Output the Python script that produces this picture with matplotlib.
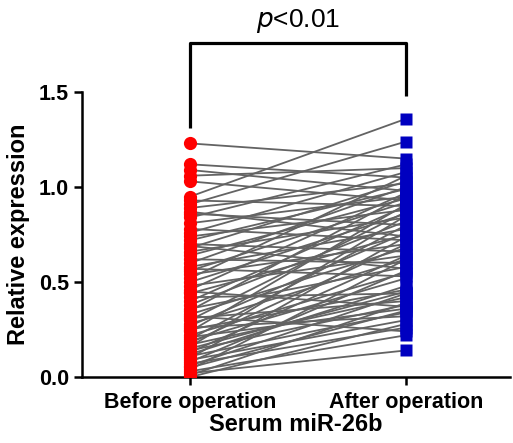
import numpy as np
import matplotlib.pyplot as plt

plt.rcParams['font.family'] = ['Liberation Sans', 'DejaVu Sans']

groups = ['Before operation', 'After operation']
before = [1.23, 1.12, 1.09, 1.06, 1.03, 0.95, 0.93, 0.91, 0.89, 0.87, 0.86, 0.84,
          0.81, 0.78, 0.76, 0.74, 0.72, 0.70, 0.69, 0.68, 0.66, 0.64, 0.62, 0.60,
          0.58, 0.57, 0.56, 0.54, 0.52, 0.50, 0.48, 0.46, 0.45, 0.44, 0.42, 0.40,
          0.38, 0.36, 0.35, 0.33, 0.32, 0.31, 0.30, 0.28, 0.27, 0.26, 0.25, 0.24,
          0.22, 0.21, 0.20, 0.19, 0.18, 0.17, 0.16, 0.15, 0.14, 0.13, 0.12, 0.11,
          0.10, 0.09, 0.08, 0.07, 0.06, 0.05, 0.04, 0.03, 0.02, 0.01, 0.00]
after = [1.15, 1.05, 0.98, 1.10, 0.93, 1.36, 0.90, 1.24, 1.02, 0.74, 0.80, 1.12,
         0.95, 0.72, 1.08, 0.88, 0.99, 0.66, 0.57, 1.03, 0.84, 0.94, 0.60, 1.00,
         0.78, 0.53, 0.92, 0.70, 1.06, 0.86, 0.64, 0.97, 0.37, 0.75, 0.44, 0.90,
         0.82, 0.58, 0.96, 0.68, 0.24, 0.40, 0.87, 0.62, 0.76, 0.32, 0.46, 0.91,
         0.55, 0.36, 0.80, 0.52, 0.70, 0.42, 0.85, 0.45, 0.38, 0.64, 0.48, 0.34,
         0.74, 0.30, 0.56, 0.26, 0.44, 0.35, 0.62, 0.22, 0.14, 0.39, 0.28]

fig = plt.figure(figsize=(5.13, 4.43), dpi=100)
ax = fig.add_axes([0.160, 0.149, 0.834, 0.643])

for b, a in zip(before, after):
    ax.plot([0, 1], [b, a], color='#636363', lw=1.3, zorder=1)
ax.plot(np.zeros(len(before)), before, 'o', color='#ff0000', ms=9.5, mec='none', zorder=3)
ax.plot(np.ones(len(after)), after, 's', color='#0000c0', ms=9, mec='none', zorder=3)

ax.set_xlim(-0.5, 1.48)
ax.set_ylim(0, 1.5)
ax.set_yticks([0, 0.5, 1.0, 1.5])
ax.set_yticklabels(['0.0', '0.5', '1.0', '1.5'])
ax.set_xticks([0, 1])
ax.set_xticklabels(groups)
for s in ['top', 'right']:
    ax.spines[s].set_visible(False)
for s in ['left', 'bottom']:
    ax.spines[s].set_linewidth(1.8)
ax.tick_params(width=1.8, length=6, labelsize=15.5)
ax.tick_params(axis='x', pad=5)
for lab in ax.get_xticklabels() + ax.get_yticklabels():
    lab.set_fontweight('bold')
ax.set_ylabel('Relative expression', fontsize=17, fontweight='bold', labelpad=6)
ax.set_xlabel('Serum miR-26b', fontsize=17, fontweight='bold', labelpad=0)

# significance bracket
ax.plot([0, 0, 1, 1], [1.31, 1.76, 1.76, 1.48], color='black', lw=2.3,
        clip_on=False, solid_capstyle='butt')
ax.text(0.5, 1.80, r'$\it{p}$<0.01', ha='center', va='bottom', fontsize=19)

fig.savefig('out.png', dpi=100)
